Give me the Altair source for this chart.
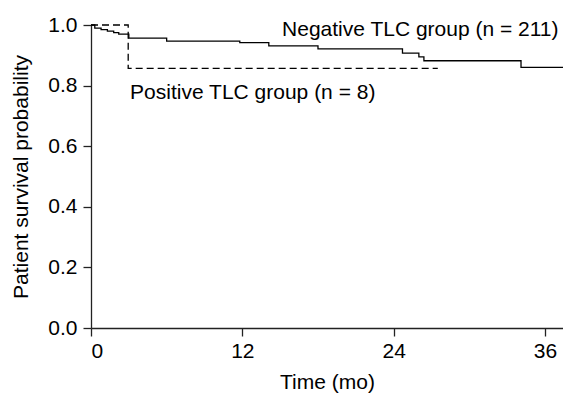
import altair as alt
import pandas as pd

neg_time = [0, 0.3, 0.8, 1.3, 1.8, 2.2, 3.0, 6.0, 11.8, 14.1, 18.0, 24.7, 26.0, 26.4, 34.1, 38.0]
neg_surv = [1.0, 0.990, 0.985, 0.980, 0.975, 0.970, 0.957, 0.947, 0.942, 0.931, 0.921, 0.907, 0.895, 0.882, 0.860, 0.860]
pos_time = [0, 2.95, 27.5]
pos_surv = [1.0, 0.857, 0.857]

labels = ["Negative TLC group (n = 211)", "Positive TLC group (n = 8)"]
label_x = [15.15, 3.1]
label_y = [0.982, 0.776]

FONT = "Liberation Sans"
FS = 21

neg = pd.DataFrame({"t": neg_time, "s": neg_surv})
pos = pd.DataFrame({"t": pos_time, "s": pos_surv})
lab = pd.DataFrame({"x": label_x, "y": label_y, "text": labels})

xs = alt.Scale(domain=[0, 37.43], nice=False, zero=False, clamp=True)
ys = alt.Scale(domain=[0, 1], nice=False)

xax = alt.Axis(values=[0, 12, 24, 36], title="Time (mo)", grid=False,
               tickSize=8, labelPadding=4, titlePadding=10)
yax = alt.Axis(values=[0, 0.2, 0.4, 0.6, 0.8, 1.0], format=".1f",
               title="Patient survival probability", grid=False,
               tickSize=8, labelPadding=6, titlePadding=16)

neg_line = alt.Chart(neg).mark_line(interpolate="step-after", color="black", strokeWidth=1.3).encode(
    x=alt.X("t:Q", scale=xs, axis=xax),
    y=alt.Y("s:Q", scale=ys, axis=yax),
)
pos_line = alt.Chart(pos).mark_line(interpolate="step-after", color="black", strokeWidth=1.3,
                                    strokeDash=[7, 4]).encode(
    x=alt.X("t:Q", scale=xs),
    y=alt.Y("s:Q", scale=ys),
)
texts = alt.Chart(lab).mark_text(align="left", baseline="middle", fontSize=FS, font=FONT,
                                 color="black").encode(
    x=alt.X("x:Q", scale=xs),
    y=alt.Y("y:Q", scale=ys),
    text="text:N",
)

chart = (neg_line + pos_line + texts).properties(
    width=472, height=303,
    autosize=alt.AutoSizeParams(type="none"),
    padding={"left": 83, "top": 17, "right": 0, "bottom": 66},
).configure_view(stroke=None).configure_axis(
    domainColor="#222", tickColor="#222", labelColor="black", titleColor="black",
    labelFont=FONT, titleFont=FONT, labelFontSize=FS, titleFontSize=FS,
    titleFontWeight="normal", domainWidth=1.3, tickWidth=1.3,
)

chart.save("out.html", embed_options={"renderer": "svg", "actions": False})
